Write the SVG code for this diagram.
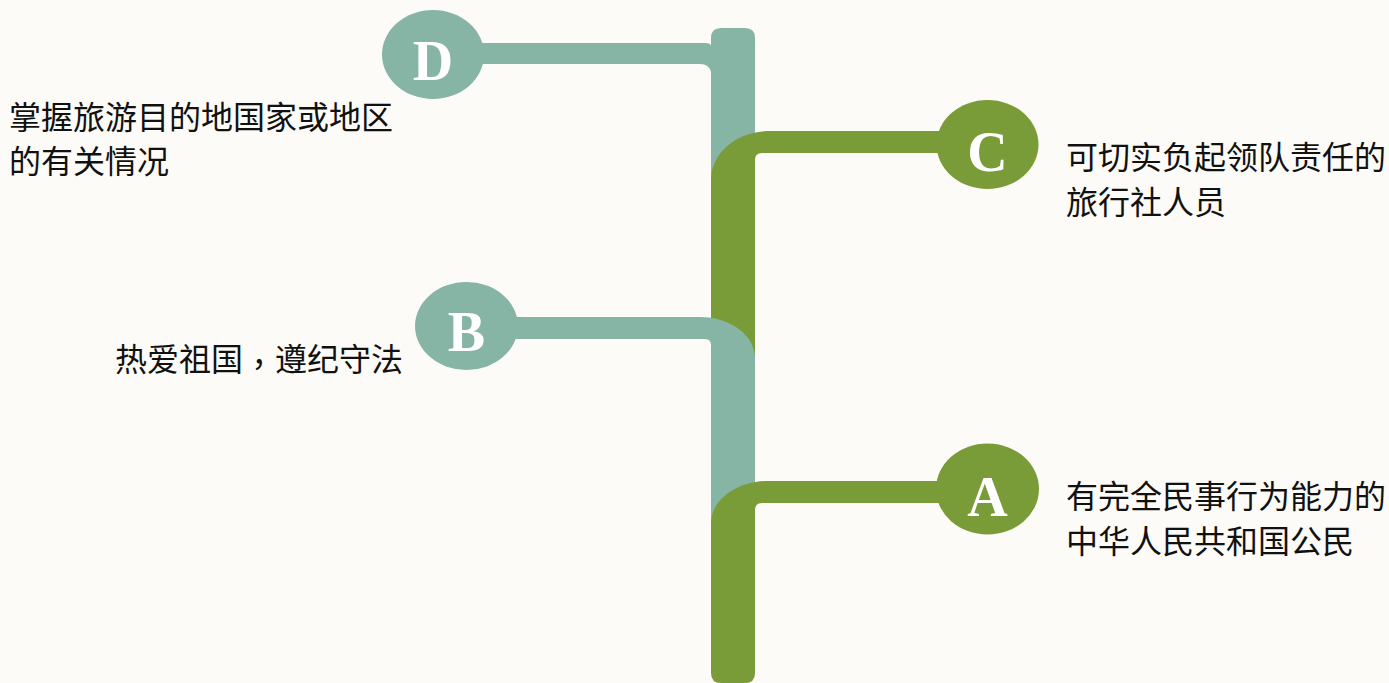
<svg xmlns="http://www.w3.org/2000/svg" width="1389" height="683" viewBox="0 0 1389 683">
<style>
.teal{fill:#86B4A5}
.green{fill:#7A9C38}
.letter{font-family:"Liberation Serif","Times New Roman",serif;font-weight:bold;font-size:56px;fill:#FFFFFF;text-anchor:middle}
.label{font-family:"Noto Sans CJK SC","Noto Sans",sans-serif;font-size:32px;fill:#111111}
.tc{font-family:"Noto Sans CJK TC","Noto Sans CJK SC",sans-serif}
</style>
<rect x="0" y="0" width="1389" height="683" fill="#FCFBF7"/>
<g id="connectors">
<path id="seg-d" class="teal" d="M711,38 Q711,28 721,28 H745 Q755,28 755,38 V220 H711 Z M470,43 H705 Q711,43 711,46 V72 Q709,64 700,64 H470 Z"/>
<path id="seg-c" class="green" d="M711,400 V180 C711,153 737,131 770,131 H950 V153 H762 Q755,153 755,160 V400 Z"/>
<path id="seg-b" class="teal" d="M500,317 H700 C730,317 755,335 755,358 V530 H711 V345 Q711,339 705,339 H500 Z"/>
<path id="seg-a" class="green" d="M711,673 V523 C711,500 737,481 768,481 H950 V503 H762 Q755,503 755,510 V673 Q755,683 745,683 H721 Q711,683 711,673 Z"/>
</g>
<g id="node-d">
<ellipse class="teal" cx="433" cy="54.5" rx="51" ry="44.5"/>
<text class="letter" x="433" y="80">D</text>
<text class="label" x="9" y="129">掌握旅游目的地国家或地区</text>
<text class="label" x="9" y="173">的有关情况</text>
</g>
<g id="node-c">
<ellipse class="green" cx="987.5" cy="144.5" rx="51" ry="44.5"/>
<text class="letter" x="987.5" y="171">C</text>
<text class="label" x="1066" y="169">可切实负起领队责任的</text>
<text class="label" x="1066" y="214">旅行社人员</text>
</g>
<g id="node-b">
<ellipse class="teal" cx="466.5" cy="326" rx="51.5" ry="44"/>
<text class="letter" x="466.5" y="351">B</text>
<text class="label" x="115" y="371">热爱祖国<tspan class="tc" dy="5">，</tspan><tspan dy="-5">遵纪守法</tspan></text>
</g>
<g id="node-a">
<ellipse class="green" cx="987.5" cy="489" rx="51.5" ry="45.5"/>
<text class="letter" x="987.5" y="516">A</text>
<text class="label" x="1066" y="508">有完全民事行为能力的</text>
<text class="label" x="1066" y="553">中华人民共和国公民</text>
</g>
</svg>
